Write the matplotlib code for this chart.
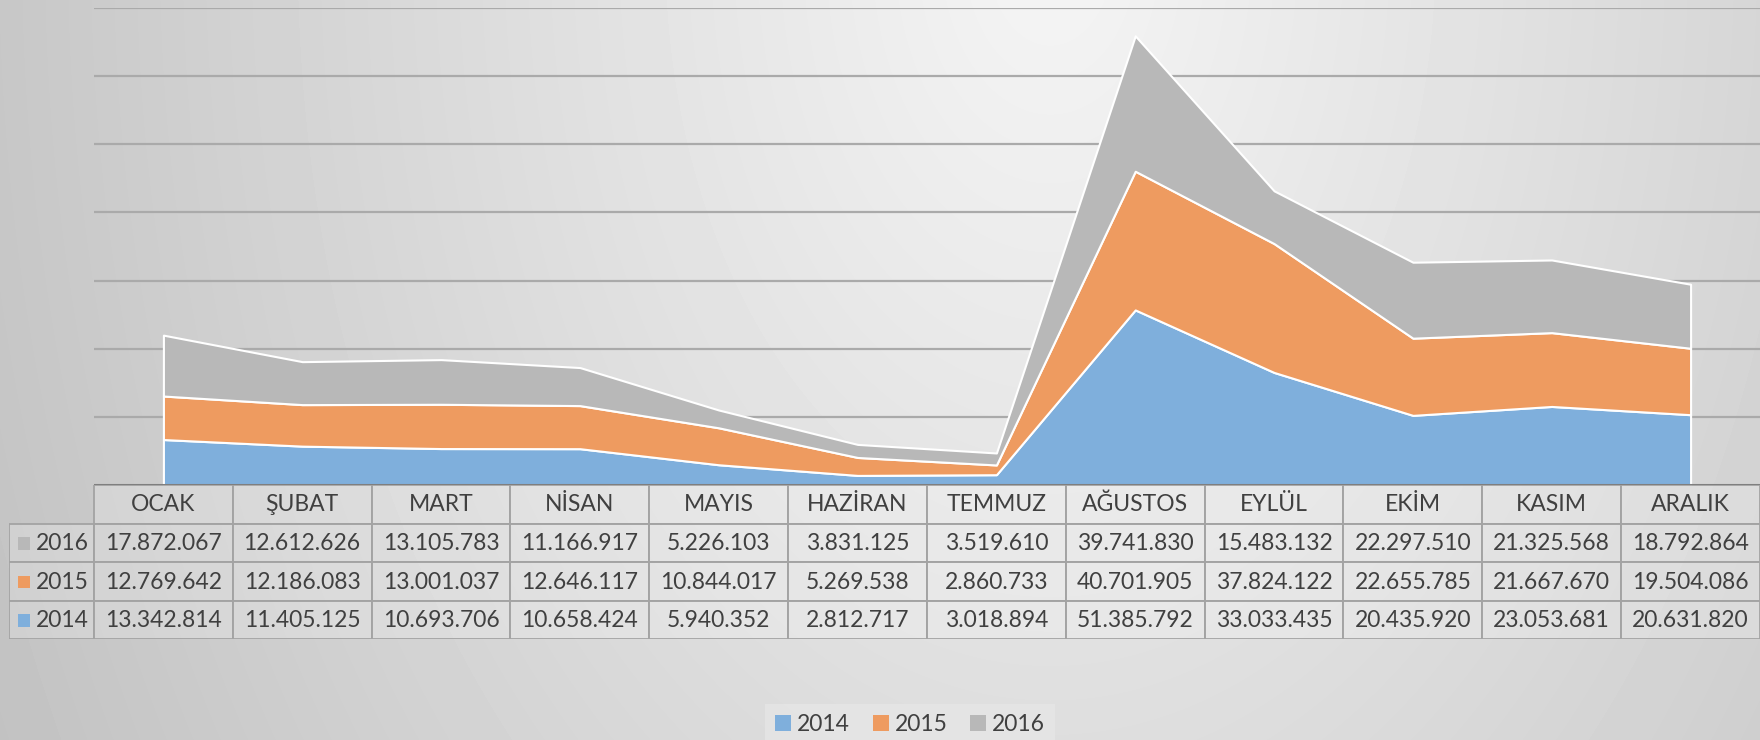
import matplotlib
matplotlib.use("Agg")
import matplotlib.pyplot as plt
from matplotlib.patches import Patch, Rectangle
import numpy as np

plt.rcParams['font.family'] = ['Lato', 'DejaVu Sans']

months = ["OCAK", "ŞUBAT", "MART", "NİSAN", "MAYIS", "HAZİRAN", "TEMMUZ",
          "AĞUSTOS", "EYLÜL", "EKİM", "KASIM", "ARALIK"]
years = ["2014", "2015", "2016"]
v2014 = [13342814, 11405125, 10693706, 10658424, 5940352, 2812717,
         3018894, 51385792, 33033435, 20435920, 23053681, 20631820]
v2015 = [12769642, 12186083, 13001037, 12646117, 10844017, 5269538,
         2860733, 40701905, 37824122, 22655785, 21667670, 19504086]
v2016 = [17872067, 12612626, 13105783, 11166917, 5226103, 3831125,
         3519610, 39741830, 15483132, 22297510, 21325568, 18792864]
colors = ["#7fafdc", "#ee9b60", "#b8b8b8"]
txt = "#404040"
fs = 16.5

W, H = 1760, 740
fig = plt.figure(figsize=(W / 100, H / 100), dpi=100)

# background gradient (light spot top centre, darker towards edges)
bg = fig.add_axes([0, 0, 1, 1], zorder=-10)
yy, xx = np.mgrid[0:H, 0:W]
d = np.sqrt(((xx - 1050) / 1.0) ** 2 + ((yy + 50) / 1.5) ** 2)
shade = np.clip(0.96 - 0.17 * d / 1000, 0.76, 0.96)
bg.imshow(shade, cmap="gray", vmin=0, vmax=1, aspect="auto", extent=[0, W, H, 0])
bg.axis("off")

# main area chart
ax = fig.add_axes([94 / W, 1 - 485 / H, 1 - 94 / W, (485 - 8) / H])
ax.set_facecolor("none")
x = np.arange(len(months))
ax.stackplot(x, v2014, v2015, v2016, colors=colors, edgecolor="white",
             linewidth=1.5, zorder=3, labels=years)
ax.set_xlim(-0.5, len(months) - 0.5)
ax.set_ylim(0, 140e6)
for g in np.arange(20e6, 141e6, 20e6):
    ax.axhline(g, color="#aaaaaa", lw=1.6, zorder=1)
ax.axhline(0, color="#7f7f7f", lw=2.2, zorder=4)
ax.set_xticks([])
ax.set_yticks([])
for s in ax.spines.values():
    s.set_visible(False)

# data table below the chart
lab_w = 85 / 139
tax = fig.add_axes([9 / W, 1 - 639 / H, 1 - 9 / W, (639 - 485) / H])
tax.set_facecolor("none")
tax.set_xlim(-0.5 - lab_w, len(months) - 0.5)
tax.set_ylim(4, 0)
tax.axis("off")
border = "#a3a3a3"
rows = [("2016", v2016, colors[2]), ("2015", v2015, colors[1]), ("2014", v2014, colors[0])]
for j, m in enumerate(months):
    tax.add_patch(Rectangle((j - 0.5, 0), 1, 1, facecolor=(1, 1, 1, 0.22),
                            edgecolor=border, lw=1.3))
    tax.text(j, 0.5, m, ha="center", va="center", fontsize=fs, color=txt)
for i, (yr, vals, c) in enumerate(rows):
    r = i + 1
    tax.add_patch(Rectangle((-0.5 - lab_w, r), lab_w, 1, facecolor=(1, 1, 1, 0.22),
                            edgecolor=border, lw=1.3))
    tax.add_patch(Rectangle((-0.5 - lab_w + 0.065, r + 0.36), 0.085, 0.32,
                            facecolor=c, edgecolor="none"))
    tax.text(-0.5 - 0.035, r + 0.52, yr, ha="right", va="center", fontsize=fs, color=txt)
    for j, v in enumerate(vals):
        tax.add_patch(Rectangle((j - 0.5, r), 1, 1, facecolor=(1, 1, 1, 0.22),
                                edgecolor=border, lw=1.3))
        tax.text(j, r + 0.52, f"{v:,}".replace(",", "."), ha="center", va="center",
                 fontsize=fs, color=txt)

# legend
handles = [Patch(facecolor=c, label=y) for c, y in zip(colors, years)]
leg = fig.legend(handles=handles, loc="lower center", bbox_to_anchor=(910 / W, -0.014),
                 ncol=3, fontsize=fs, frameon=True, fancybox=False,
                 handlelength=0.7, handleheight=0.7, handletextpad=0.25,
                 columnspacing=1.0, borderpad=0.45, borderaxespad=0.2)
leg.get_frame().set_facecolor("#e6e6e6")
leg.get_frame().set_edgecolor("none")
for t in leg.get_texts():
    t.set_color(txt)

fig.savefig("out.png", dpi=100)
